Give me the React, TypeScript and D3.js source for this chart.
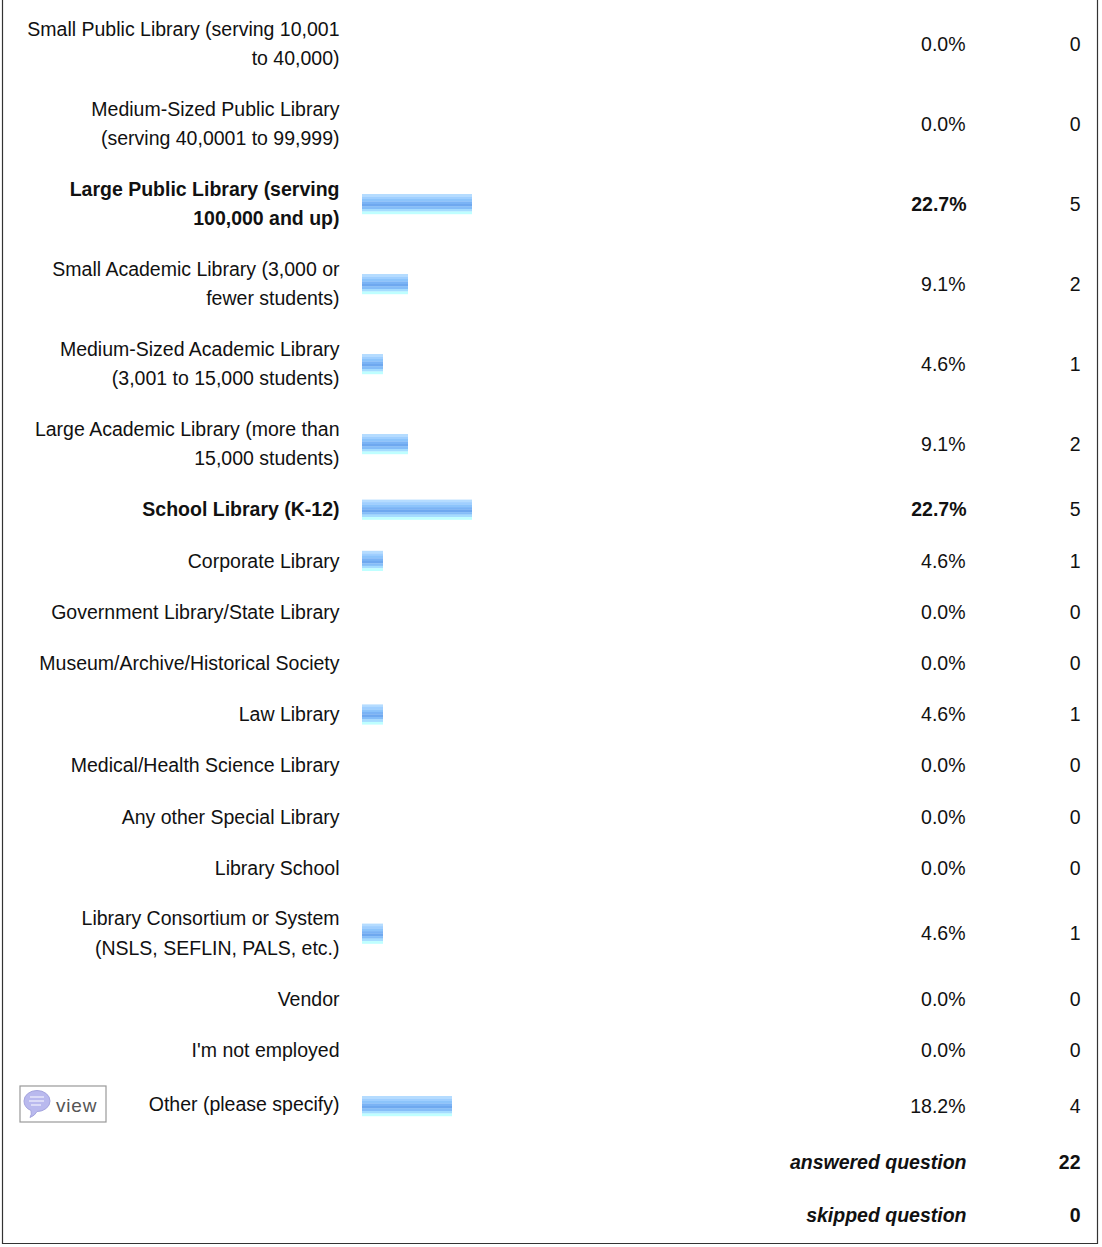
import React from 'react';
import * as d3 from 'd3';

const W = 1102;
const H = 1247;

const categories = [
  ['Small Public Library (serving 10,001', 'to 40,000)'],
  ['Medium-Sized Public Library', '(serving 40,0001 to 99,999)'],
  ['Large Public Library (serving', '100,000 and up)'],
  ['Small Academic Library (3,000 or', 'fewer students)'],
  ['Medium-Sized Academic Library', '(3,001 to 15,000 students)'],
  ['Large Academic Library (more than', '15,000 students)'],
  ['School Library (K-12)'],
  ['Corporate Library'],
  ['Government Library/State Library'],
  ['Museum/Archive/Historical Society'],
  ['Law Library'],
  ['Medical/Health Science Library'],
  ['Any other Special Library'],
  ['Library School'],
  ['Library Consortium or System', '(NSLS, SEFLIN, PALS, etc.)'],
  ['Vendor'],
  ["I'm not employed"],
  ['Other (please specify)'],
];
const percents = [0, 0, 22.7, 9.1, 4.6, 9.1, 22.7, 4.6, 0, 0, 4.6, 0, 0, 0, 4.6, 0, 0, 18.2];
const counts = [0, 0, 5, 2, 1, 2, 5, 1, 0, 0, 1, 0, 0, 0, 1, 0, 0, 4];
const footerLabels = ['answered question', 'skipped question'];
const footerValues = [22, 0];

const stripeColors = ['#b5dcff', '#9fcfff', '#8cc4fb', '#7ab3f5', '#6ea8ef', '#84bdf8', '#a5dcff', '#bfffff'];

const FONT = '"Liberation Sans", Arial, sans-serif';
const fontSize = 19.5;

export default function App() {
  // the bar images were rounded to whole pixels, so the scale goes through their real widths
  const xBar = d3.scaleLinear().domain([0, 4.6, 9.1, 18.2, 22.7]).range([0, 21, 46, 90, 110]);

  // row centres: two-line rows are 80px, one-line rows 51.2px, the last row is taller
  let cursor = 4;
  const rowY = categories.map((lines, i) => {
    const h = lines.length > 1 ? 80 : i === categories.length - 1 ? 60 : 51.2;
    const y = cursor + h / 2;
    cursor += h;
    return y;
  });
  const footerY = [1162, 1215];

  const stripe = d3.scaleLinear().domain([0, stripeColors.length]).range([-10, 10]);

  return (
    <svg width={W} height={H} style={{ position: 'absolute', left: 0, top: 0, background: '#fff' }} fontFamily={FONT} fontSize={fontSize} fill="#111">
      <path d="M2.5,0V1243.5H1097.5V0" fill="none" stroke="#333" strokeWidth={1.2} />

      {categories.map((lines, i) => {
        const bold = percents[i] === 22.7;
        const y = rowY[i];
        const last = i === categories.length - 1;
        return (
          <g key={i} fontWeight={bold ? 'bold' : 'normal'}>
            <text textAnchor="end" x={339.5}>
              {lines.map((t, j) => (
                <tspan key={j} x={339.5} y={y + 6.8 + (j - (lines.length - 1) / 2) * 29.2 - (lines.length > 1 ? 0.4 : 0) - (last ? 2 : 0)}>{t}</tspan>
              ))}
            </text>
            {percents[i] > 0 &&
              stripeColors.map((c, k) => (
                <rect key={k} x={362} y={y + stripe(k)} width={xBar(percents[i])} height={stripe(1) - stripe(0) + 0.2} fill={c} />
              ))}
            <text textAnchor="end" x={bold ? 966.5 : 965.5} y={y + 6.8}>{percents[i].toFixed(1)}%</text>
            <text textAnchor="end" x={1080.5} y={y + 6.8} fontWeight="normal">{counts[i]}</text>
          </g>
        );
      })}

      {footerLabels.map((t, i) => (
        <g key={t} fontWeight="bold">
          <text textAnchor="end" x={966.5} y={footerY[i] + 6.8} fontStyle="italic">{t}</text>
          <text textAnchor="end" x={1080.5} y={footerY[i] + 6.8}>{footerValues[i]}</text>
        </g>
      ))}

      <g transform={`translate(20,${rowY[17] - 20})`}>
        <rect x={0} y={0} width={86} height={36} fill="#fff" stroke="#999" strokeWidth={1.2} />
        <path d="M4,15a13,10.5 0 1 1 13,10.5q-2,4 -7,6q2,-3 1,-7q-7,-3 -7,-9.5z" fill="#b9b9ee" stroke="#a5a5de" />
        <path d="M10,11h14M9,15h15M11,19h10" stroke="#e6e6fa" strokeWidth={1.5} />
        <text x={36} y={26} fontSize={19} fill="#555" letterSpacing={0.8}>view</text>
      </g>
    </svg>
  );
}
